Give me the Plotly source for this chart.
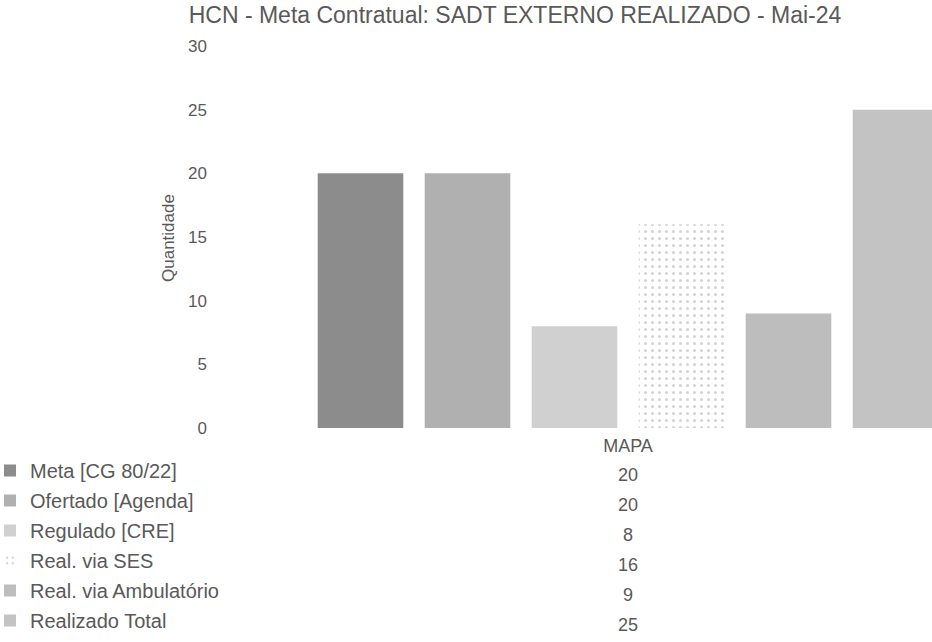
import plotly.graph_objects as go

# Data
chartTitle = "HCN - Meta Contratual: SADT EXTERNO REALIZADO - Mai-24"
yTitle = "Quantidade"
categories = ["MAPA"]
seriesNames = ["Meta [CG 80/22]", "Ofertado [Agenda]", "Regulado [CRE]",
               "Real. via SES", "Real. via Ambulatório", "Realizado Total"]
seriesValues = [20, 20, 8, 16, 9, 25]
yTicks = [0, 5, 10, 15, 20, 25, 30]

# Styles (grey, like the printed original)
colors = ["#8c8c8c", "#b0b0b0", "#d0d0d0", "#f4f4f4", "#bdbdbd", "#c3c3c3"]
textColor = "#595959"
fontName = "Liberation Sans, Arial, sans-serif"

W, H = 932, 642
plotTop, plotBottom, plotLeft = 46, 428, 208
plotW, plotH = W - plotLeft, plotBottom - plotTop
rowPx = [475, 505, 535, 565, 595, 625]

fig = go.Figure()
for i in range(len(seriesNames)):
    marker = dict(color=colors[i], line=dict(width=0))
    if seriesNames[i] == "Real. via SES":
        marker["pattern"] = dict(shape=".", fgcolor="#a8a8a8", bgcolor="#ffffff", size=7, solidity=0.15)
    fig.add_trace(go.Bar(x=categories, y=[seriesValues[i]], name=seriesNames[i],
                         marker=marker, legendgroup=str(i)))

# Data table values under the category
for i in range(len(seriesValues)):
    fig.add_annotation(x=0, xref="x", y=(plotBottom - rowPx[i]) / plotH, yref="paper",
                       text=str(seriesValues[i]), showarrow=False,
                       font=dict(size=18, color=textColor), xanchor="center", yanchor="middle")

# Y axis title
fig.add_annotation(x=(168 - plotLeft) / plotW, xref="paper", y=(plotBottom - 238) / plotH, yref="paper",
                   text=yTitle, textangle=-90, showarrow=False,
                   font=dict(size=17, color=textColor), xanchor="center", yanchor="middle")

fig.update_layout(
    width=W, height=H,
    margin=dict(l=plotLeft, r=0, t=plotTop, b=H - plotBottom, autoexpand=False),
    paper_bgcolor="white", plot_bgcolor="white",
    font=dict(family=fontName, color=textColor, size=17),
    title=dict(text=chartTitle, x=515 / W, xanchor="center", y=1 - 15 / H, yanchor="middle",
               font=dict(size=23, color=textColor)),
    barmode="group", bargap=0.4, bargroupgap=0.2,
    showlegend=True,
    legend=dict(x=(-10 - plotLeft) / plotW, xanchor="left",
                yref="container", y=1 - 451 / H, yanchor="top", tracegroupgap=1,
                font=dict(size=20, color=textColor), bgcolor="rgba(0,0,0,0)"),
)
fig.update_xaxes(range=[-(628 - plotLeft) / 1070, (W - 628) / 1070], showline=False,
                 showgrid=False, ticks="", ticklabelstandoff=5,
                 tickfont=dict(size=18, color=textColor))
fig.update_yaxes(range=[0, 30], tickvals=yTicks, showgrid=False, zeroline=False, showline=False,
                 tickfont=dict(size=17, color=textColor))

fig.write_html("out.html", config={"displayModeBar": False},
               post_script="document.body.style.margin = '0';")
